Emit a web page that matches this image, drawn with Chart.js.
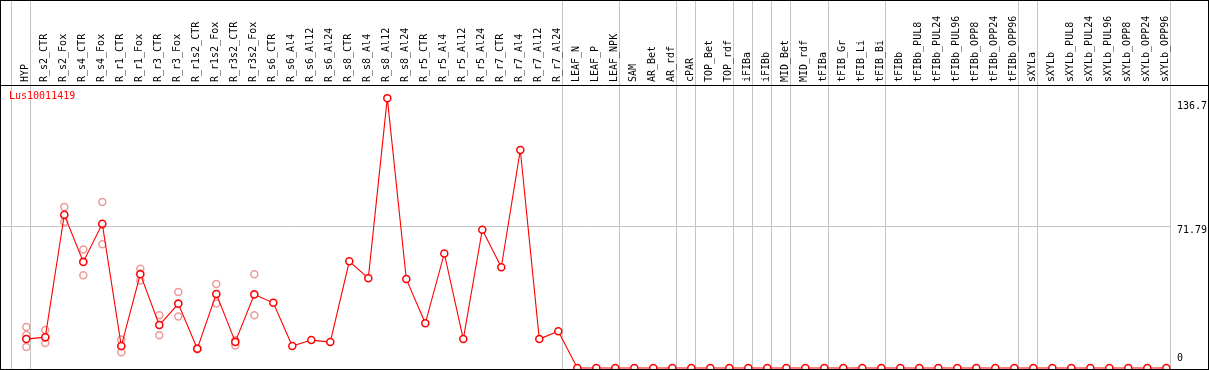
<!DOCTYPE html>
<html>
<head>
<meta charset="utf-8">
<script src="https://cdn.jsdelivr.net/npm/chart.js@4.4.1/dist/chart.umd.min.js"></script>
<style>
    body { margin: 0; background: #fff; }
    canvas { display: block; }
</style>
</head>
<body>
<canvas id="GeneChart" width="1209" height="370"></canvas>
<script>

const geneName = 'Lus10011419';

const categories = [
    'HYP', 'R_s2_CTR', 'R_s2_Fox', 'R_s4_CTR', 'R_s4_Fox', 'R_r1_CTR', 'R_r1_Fox',
    'R_r3_CTR', 'R_r3_Fox', 'R_r1s2_CTR', 'R_r1s2_Fox', 'R_r3s2_CTR', 'R_r3s2_Fox',
    'R_s6_CTR', 'R_s6_Al4', 'R_s6_Al12', 'R_s6_Al24', 'R_s8_CTR', 'R_s8_Al4',
    'R_s8_Al12', 'R_s8_Al24', 'R_r5_CTR', 'R_r5_Al4', 'R_r5_Al12', 'R_r5_Al24',
    'R_r7_CTR', 'R_r7_Al4', 'R_r7_Al12', 'R_r7_Al24', 'LEAF_N', 'LEAF_P', 'LEAF_NPK',
    'SAM', 'AR_Bet', 'AR_rdf', 'cPAR', 'TOP_Bet', 'TOP_rdf', 'iFIBa', 'iFIBb',
    'MID_Bet', 'MID_rdf', 'tFIBa', 'tFIB_Gr', 'tFIB_Li', 'tFIB_Bi', 'tFIBb',
    'tFIBb_PUL8', 'tFIBb_PUL24', 'tFIBb_PUL96', 'tFIBb_OPP8', 'tFIBb_OPP24', 'tFIBb_OPP96',
    'sXYLa', 'sXYLb', 'sXYLb_PUL8', 'sXYLb_PUL24', 'sXYLb_PUL96', 'sXYLb_OPP8',
    'sXYLb_OPP24', 'sXYLb_OPP96'
];

// mean expression per sample
const means = [
    14.6, 15.6, 77.6, 53.7, 73.0, 11.1, 47.5, 21.7, 32.5, 9.7, 37.5, 13.2, 37.2,
    33.0, 11.1, 14.1, 13.1, 54.0, 45.5, 136.7, 45.0, 22.6, 58.0, 14.6, 70.0,
    51.0, 110.4, 14.6, 18.6,
    0, 0, 0, 0, 0, 0, 0, 0, 0, 0, 0, 0, 0, 0, 0, 0, 0, 0, 0, 0, 0, 0, 0, 0, 0, 0, 0, 0, 0, 0, 0, 0
];

// replicates (only the first samples have them)
const repA = [20.7, 19.2, 81.6, 60.0, 84.1, 14.4, 50.3, 26.7, 38.5, 10.0, 42.5, 14.1, 47.5];
const repB = [16.7, 12.6, 74.0, 47.0, 62.7, 7.9, 44.3, 16.6, 26.1, 9.5, 32.7, 11.4, 26.7];
const repC = [10.6, 15.3, 77.4, 54.0, 72.5, 11.0, 47.8, 21.8, 32.8, 9.7, 37.3, 13.5, 37.4];

const yTicks = [0, 71.79, 136.7];

// sample index where a new group starts (gray separators)
const groupStarts = [0, 1, 29, 32, 35, 36, 38, 39, 40, 41, 43, 46, 53, 54, 61];

const red = '#ff0000';
const pink = '#ee9a9a';
const gridGray = '#c4c4c4';

const meanPoints = means.map((v, i) => ({x: i, y: v}));
const repPoints = [];
[repA, repB, repC].forEach(rep => {
    rep.forEach((v, i) => repPoints.push({x: i, y: v}));
});

// labels, frame and value labels
const framePlugin = {
    id: 'frame',
    afterDraw(chart) {
        const ctx = chart.ctx;
        const y = chart.scales.y;
        ctx.save();

        // header separator
        ctx.strokeStyle = '#000';
        ctx.lineWidth = 1;
        ctx.beginPath();
        ctx.moveTo(0, 85.5);
        ctx.lineTo(1209, 85.5);
        ctx.stroke();

        ctx.font = '10px "DejaVu Sans Mono"';
        ctx.fillStyle = red;
        ctx.textAlign = 'left';
        ctx.textBaseline = 'top';
        ctx.fillText(geneName, 9, 91);

        // y value labels, kept inside the box
        ctx.fillStyle = '#000';
        ctx.textBaseline = 'middle';
        const shift = [-9.6, 3.7, 8.4];
        yTicks.forEach((v, i) => {
            ctx.fillText(String(v), 1177, y.getPixelForValue(v) + shift[i]);
        });

        ctx.strokeRect(0.5, 0.5, 1208, 369);
        ctx.restore();
    }
};

const ctx = document.getElementById('GeneChart');

new Chart(ctx, {
    type: 'line',
    data: {
        datasets: [
            {
                label: 'mean',
                data: meanPoints,
                borderColor: red,
                borderWidth: 1.1,
                pointRadius: 3.5,
                pointBorderWidth: 1.5,
                pointBorderColor: red,
                pointBackgroundColor: '#fff',
                tension: 0,
                order: 0
            },
            {
                label: 'replicates',
                data: repPoints,
                showLine: false,
                pointRadius: 3.5,
                pointBorderWidth: 1.5,
                pointBorderColor: pink,
                pointBackgroundColor: 'rgba(0,0,0,0)',
                order: 1
            }
        ]
    },
    options: {
        responsive: false,
        animation: false,
        devicePixelRatio: 1,
        layout: { padding: 0, autoPadding: false },
        plugins: {
            legend: { display: false },
            tooltip: { enabled: false }
        },
        scales: {
            x: {
                type: 'linear',
                position: 'top',
                weight: 1,
                min: -1.384,
                max: 60.247,
                afterBuildTicks: (scale) => {
                    scale.ticks = categories.map((c, i) => ({value: i}));
                },
                afterFit: (scale) => { scale.height = 85; },
                grid: { display: false, drawTicks: false },
                border: { display: false },
                ticks: {
                    autoSkip: false,
                    minRotation: 90,
                    maxRotation: 90,
                    padding: 3,
                    labelOffset: 11,
                    color: '#000',
                    font: { family: 'DejaVu Sans Mono', size: 10 },
                    callback: (v) => categories[v]
                }
            },
            groups: {
                type: 'linear',
                position: 'top',
                weight: 0,
                min: -1.384,
                max: 60.247,
                afterBuildTicks: (scale) => {
                    scale.ticks = groupStarts.map(k => ({value: k - 0.768}));
                },
                afterFit: (scale) => { scale.height = 0; },
                grid: {
                    color: gridGray,
                    lineWidth: 1,
                    drawTicks: true,
                    tickLength: 85
                },
                border: { display: false },
                ticks: { display: false }
            },
            y: {
                type: 'linear',
                position: 'right',
                min: -1.05,
                max: 143.35,
                afterBuildTicks: (scale) => {
                    scale.ticks = yTicks.map(v => ({value: v}));
                },
                afterFit: (scale) => { scale.width = 38; },
                grid: {
                    color: (c) => (c.tick && c.tick.value === 71.79) ? gridGray : 'rgba(0,0,0,0)',
                    drawTicks: false
                },
                border: { display: false },
                ticks: { display: false }
            }
        }
    },
    plugins: [framePlugin]
});
</script>
</body>
</html>
